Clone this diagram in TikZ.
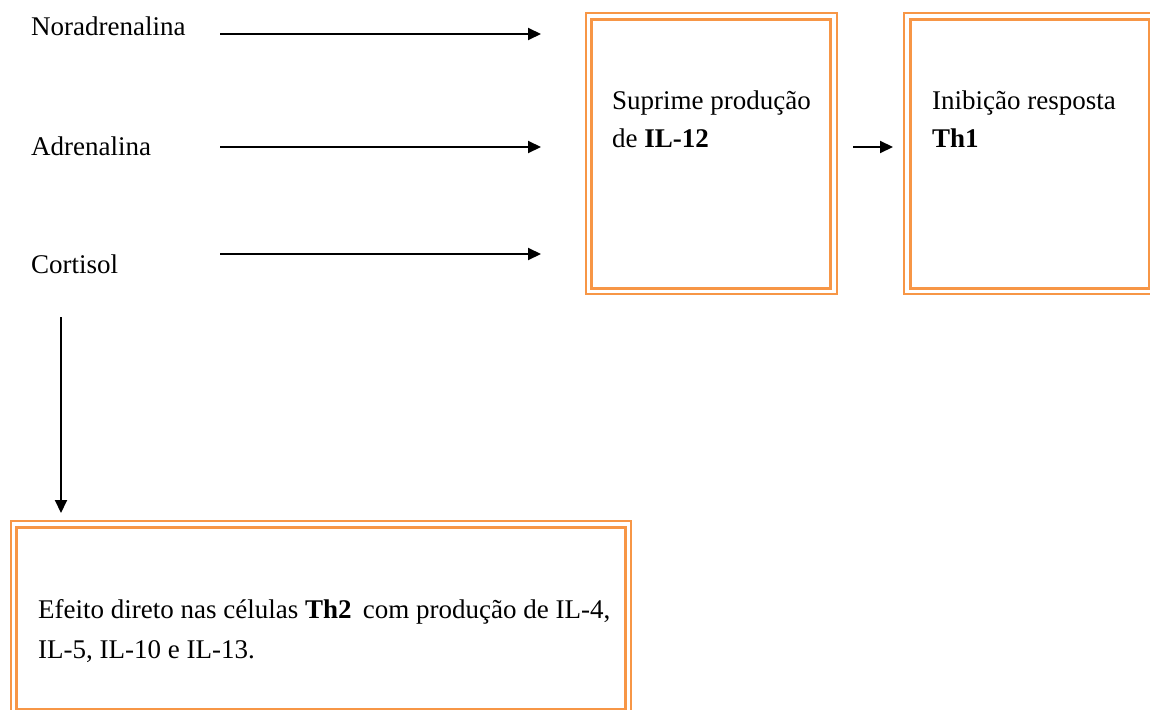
\documentclass[tikz,border=0pt]{standalone}
\usepackage{fontspec}
\setmainfont{Liberation Serif}
\usetikzlibrary{arrows.meta}
\definecolor{boxorange}{HTML}{F79646}
\begin{document}
\begin{tikzpicture}[x=1pt,y=-1pt,
  lbl/.style={anchor=base west, inner sep=0, font=\fontsize{27}{40}\selectfont},
  outerbox/.style={draw=boxorange, line width=2.6pt, inner sep=0, fill=none},
  innerbox/.style={draw=boxorange, line width=3.2pt},
  conn/.style={line width=2pt, -{Triangle[length=13pt,width=12pt]}}]
\useasboundingbox (0,0) rectangle (1150,709);
% labels
\node[lbl] (nor) at (31,36) {Noradrenalina};
\node[lbl] (adr) at (31,155) {Adrenalina};
\node[lbl] (cor) at (31,273) {Cortisol};
% boxes
\node[outerbox, minimum width=251pt, minimum height=281pt] (b1) at (711.5,153.5) {};
\draw[innerbox] ([xshift=7pt,yshift=-7.5pt]b1.north west) rectangle ([xshift=-7.5pt,yshift=7pt]b1.south east);
\node[outerbox, minimum width=252pt, minimum height=281pt] (b2) at (1030,153.5) {};
\draw[innerbox] ([xshift=7.5pt,yshift=-7.5pt]b2.north west) rectangle ([xshift=-7.5pt,yshift=7pt]b2.south east);
\node[outerbox, minimum width=620pt, minimum height=194pt] (b3) at (321,618) {};
\draw[innerbox] ([xshift=7pt,yshift=-7.5pt]b3.north west) rectangle ([xshift=-7pt,yshift=7pt]b3.south east);
% box texts
\node[lbl] (t1a) at (612,109) {Suprime produção};
\node[lbl] (t1b) at (612,147) {de \textbf{IL-12}};
\node[lbl] (t2a) at (932,109) {Inibição resposta};
\node[lbl] (t2b) at (932,147) {\textbf{Th1}};
\node[lbl] (t3a) at (38,618) {Efeito direto nas células \textbf{Th2}\, com produção de IL-4,};
\node[lbl] (t3b) at (38,658) {IL-5, IL-10 e IL-13.};
% connector ends
\coordinate (norS) at (220,34);
\coordinate (norE) at (541,34);
\coordinate (adrS) at (220,147);
\coordinate (adrE) at (541,147);
\coordinate (corS) at (220,254);
\coordinate (corE) at (541,254);
\coordinate (midS) at (853,147);
\coordinate (midE) at (893,147);
\coordinate (downS) at (61,317);
\coordinate (downE) at (61,513);
\draw[conn] (norS) -- (norE);
\draw[conn] (adrS) -- (adrE);
\draw[conn] (corS) -- (corE);
\draw[conn] (midS) -- (midE);
\draw[conn] (downS) -- (downE);
\end{tikzpicture}
\end{document}
